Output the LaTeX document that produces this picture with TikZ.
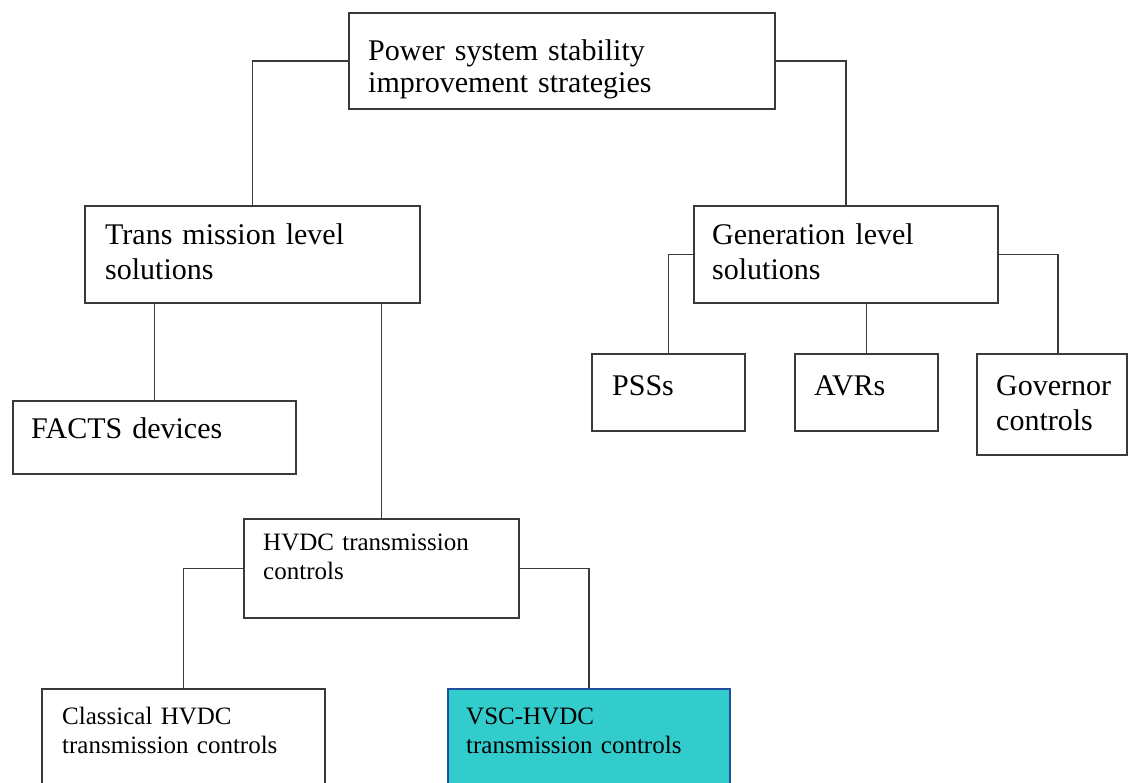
\documentclass[tikz,border=0pt]{standalone}
\usepackage{fontspec}
\setmainfont{Liberation Serif}
\definecolor{edge}{HTML}{3A3A3A}
\definecolor{vscfill}{HTML}{33CCCC}
\definecolor{vscedge}{HTML}{1F4FA0}
\tikzset{
  box/.style={draw=edge, line width=1.6pt, rectangle, inner sep=0pt, anchor=north west},
  big/.style={anchor=base west, inner sep=0pt, align=left, text width=#1,
    font=\fontsize{30}{35}\selectfont},
  small/.style={anchor=base west, inner sep=0pt, align=left, text width=#1,
    font=\fontsize{25}{29.5}\selectfont},
  link/.style={draw=edge, line width=1.6pt}
}
\begin{document}
\begin{tikzpicture}[x=1pt,y=-1pt]
\clip (0,0) rectangle (1130,782);
\fill[white] (0,0) rectangle (1130,782);
% boxes
\node[box, minimum width=426pt, minimum height=96pt] (top) at (348,12) {};
\node[box, minimum width=335pt, minimum height=97pt] (trans) at (84,205) {};
\node[box, minimum width=304pt, minimum height=97pt] (gen) at (693,205) {};
\node[box, minimum width=283pt, minimum height=73pt] (facts) at (12,400) {};
\node[box, minimum width=153pt, minimum height=77pt] (pss) at (591,353) {};
\node[box, minimum width=143pt, minimum height=77pt] (avr) at (794,353) {};
\node[box, minimum width=150pt, minimum height=101pt] (gov) at (976,353) {};
\node[box, minimum width=275pt, minimum height=99pt] (hvdc) at (243,518) {};
\node[box, minimum width=283pt, minimum height=110pt] (classical) at (41,688) {};
\node[box, draw=vscedge, fill=vscfill, minimum width=282pt, minimum height=110pt] (vsc) at (447,688) {};
% texts
\node[big=400pt, font=\fontsize{30}{32}\selectfont] (topt) at (368,60) {Power system stability\\improvement strategies};
\node[big=300pt] (transt) at (105,244) {Trans mission level\\solutions};
\node[big=280pt] (gent) at (712,244) {Generation level\\solutions};
\node[big=260pt] (factst) at (31,438) {FACTS devices};
\node[big=120pt] (psst) at (612,395) {PSSs};
\node[big=120pt] (avrt) at (814,395) {AVRs};
\node[big=125pt] (govt) at (996,395) {Governor\\controls};
\node[small=250pt] (hvdct) at (263,550) {HVDC transmission\\controls};
\node[small=260pt] (classicalt) at (62,724) {Classical HVDC\\transmission controls};
\node[small=260pt] (vsct) at (466,724) {VSC-HVDC\\transmission controls};
% connectors
\coordinate (govtop) at (1058,353);
\draw[link] (top.west) -| (trans.north);
\draw[link] (top.east) -| (gen.north);
\draw[link] (trans.south -| facts.north) -- (facts.north);
\draw[link] (trans.south -| hvdc.north) -- (hvdc.north);
\draw[link] (gen.west) -| (pss.north);
\draw[link] (gen.south -| avr.north) -- (avr.north);
\draw[link] (gen.east) -| (govtop);
\draw[link] (hvdc.west) -| (classical.north);
\draw[link] (hvdc.east) -| (vsc.north);
\end{tikzpicture}
\end{document}
